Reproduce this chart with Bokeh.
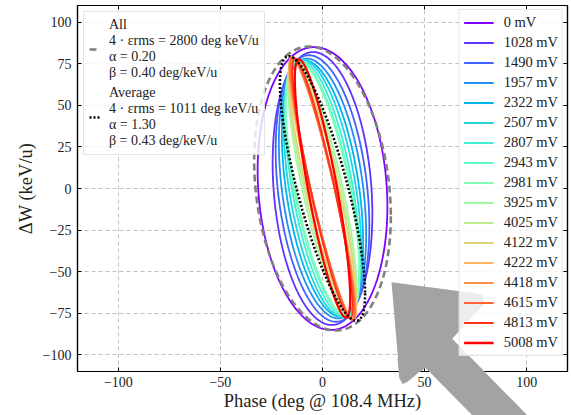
import numpy as np
from bokeh.plotting import figure
from bokeh.models import (Legend, LegendItem, LinearAxis, FixedTicker, PolyAnnotation,
                          CustomJSTickFormatter, Range1d, Div)
from bokeh.embed import file_html
from bokeh.resources import INLINE

# ---------------- data ----------------
voltages_mV = [0, 1028, 1490, 1957, 2322, 2507, 2807, 2943, 2981,
               3925, 4025, 4122, 4222, 4418, 4615, 4813, 5008]
# Twiss parameters of each measured ellipse (4*eps_rms in deg keV/u, alpha, beta in deg/keV/u)
emittance = [2678, 1968, 1760, 1560, 1386, 1271, 1155, 1078, 1040,
             770, 702, 624, 514, 474, 458, 468, 558]
alpha = [0.13, 0.19, 0.30, 0.38, 0.47, 0.58, 0.70, 0.82, 0.89,
         1.35, 1.56, 1.81, 2.31, 2.50, 2.50, 2.25, 1.60]
beta = [0.377, 0.303, 0.299, 0.293, 0.286, 0.285, 0.290, 0.305, 0.314,
        0.367, 0.395, 0.440, 0.520, 0.551, 0.532, 0.466, 0.330]

all_eps, all_alpha, all_beta = 2800, 0.20, 0.40
avg_eps, avg_alpha, avg_beta = 1011, 1.30, 0.43

x_ticks = [-100, -50, 0, 50, 100]
y_ticks = [-100, -75, -50, -25, 0, 25, 50, 75, 100]

# decorative cursor-arrow overlay (picture pixel positions)
arrow_px = [(391.0, 281.7), (399.3, 378.3), (402.7, 384.0), (407.3, 382.0), (425.0, 367.3),
            (491.7, 435.0), (546.7, 435.0), (451.7, 338.3), (484.3, 302.7),
            (481.7, 294.3), (475.0, 292.7)]

# ---------------- helpers ----------------
phi = np.linspace(0, 2 * np.pi, 400)


def ellipse(eps, a, b):
    x = np.sqrt(eps * b) * np.cos(phi)
    y = -np.sqrt(eps / b) * (a * np.cos(phi) + np.sin(phi))
    return x, y


def rainbow(t):
    r = min(1.0, abs(2 * t - 0.5))
    g = np.sin(np.pi * t)
    b = np.cos(np.pi * t / 2)
    return "#%02x%02x%02x" % tuple(int(round(255 * max(0.0, min(1.0, c)))) for c in (r, g, b))


FONT = "Liberation Serif"
TXT = "#222222"
n = len(voltages_mV)
colors = [rainbow(i / (n - 1)) for i in range(n)]

p = figure(width=571, height=415, x_range=Range1d(-120, 120), y_range=Range1d(-110, 110),
           output_backend="svg", toolbar_location=None,
           min_border_left=77, min_border_right=4, min_border_top=5, min_border_bottom=44)
p.background_fill_color = "white"
p.border_fill_color = "white"
p.outline_line_color = "black"
p.outline_line_width = 1.2

minus_fmt = CustomJSTickFormatter(code="return tick < 0 ? '\u2212' + Math.abs(tick) : String(tick);")
blank_fmt = CustomJSTickFormatter(code="return '';")

for ax, ticks in ((p.xaxis[0], x_ticks), (p.yaxis[0], y_ticks)):
    ax.ticker = FixedTicker(ticks=ticks)
    ax.formatter = minus_fmt
    ax.major_tick_in = 4
    ax.major_tick_out = 0
    ax.minor_tick_in = 0
    ax.minor_tick_out = 0
    ax.axis_line_color = "black"
    ax.axis_line_width = 1.2
    ax.major_label_text_font = FONT
    ax.major_label_text_font_size = "14px"
    ax.major_label_text_color = TXT
    ax.axis_label_text_font = FONT
    ax.axis_label_text_font_size = "18.5px"
    ax.axis_label_text_font_style = "normal"
    ax.axis_label_text_color = TXT

p.xaxis[0].axis_label = "Phase (deg @ 108.4 MHz)"
p.xaxis[0].major_label_standoff = 5
p.xaxis[0].axis_label_standoff = 1
p.yaxis[0].axis_label = "ΔW (keV/u)"
p.yaxis[0].major_label_standoff = 6
p.yaxis[0].axis_label_standoff = 4

for side, ticks in (("right", y_ticks), ("above", x_ticks)):
    ax = LinearAxis(ticker=FixedTicker(ticks=ticks), formatter=blank_fmt,
                    major_tick_in=4, major_tick_out=0, minor_tick_in=0, minor_tick_out=0,
                    major_label_standoff=0, axis_line_color="black", axis_line_width=1.2)
    p.add_layout(ax, side)

p.xgrid.ticker = FixedTicker(ticks=x_ticks)
p.ygrid.ticker = FixedTicker(ticks=y_ticks)
for g in (p.xgrid[0], p.ygrid[0]):
    g.grid_line_color = "#b0b0b0"
    g.grid_line_dash = "4 3"
    g.grid_line_width = 0.8

# ellipses
volt_items = []
for i in range(n):
    x, y = ellipse(emittance[i], alpha[i], beta[i])
    lw = 2.3 if i == n - 1 else 1.8
    r = p.line(x, y, line_color=colors[i], line_width=lw)
    volt_items.append(LegendItem(label=f"{voltages_mV[i]} mV", renderers=[r]))

xa, ya = ellipse(all_eps, all_alpha, all_beta)
r_all = p.line(xa, ya, line_color="#808080", line_width=2.6, line_dash="7 4")
xv, yv = ellipse(avg_eps, avg_alpha, avg_beta)
r_avg = p.line(xv, yv, line_color="black", line_width=2.6, line_dash="2 2")

# arrow overlay: inside the frame (beneath the legend) ...
ax_px = np.array([q[0] for q in arrow_px])
ay_px = np.array([q[1] for q in arrow_px])
arrow = PolyAnnotation(xs=list((ax_px - 322.0) / 2.042), ys=list((188.0 - ay_px) / 1.664),
                       fill_color="#a3a3a3", fill_alpha=1.0, line_alpha=0)
p.add_layout(arrow)

# ... and the part that runs over the bottom axis, as a floating element
pts = " ".join(f"{x:.1f},{y:.1f}" for x, y in arrow_px)
svg = ('<svg xmlns="http://www.w3.org/2000/svg" width="571" height="415">'
       '<defs><clipPath id="lowcut"><rect x="0" y="358" width="571" height="60"/></clipPath></defs>'
       f'<polygon points="{pts}" fill="#a3a3a3" clip-path="url(#lowcut)"/></svg>')
overlay = Div(text=svg, width=571, height=415,
              styles={"position": "absolute", "left": "0px", "top": "0px",
                      "pointer-events": "none", "z-index": "5", "margin": "0px", "padding": "0px"})
p.elements = [overlay]

lbl_all = f"All\n4 · εrms = {all_eps} deg keV/u\nα = {all_alpha:.2f}\nβ = {all_beta:.2f} deg/keV/u"
lbl_avg = f"Average\n4 · εrms = {avg_eps} deg keV/u\nα = {avg_alpha:.2f}\nβ = {avg_beta:.2f} deg/keV/u"

leg_left = Legend(items=[LegendItem(label=lbl_all, renderers=[r_all]),
                         LegendItem(label=lbl_avg, renderers=[r_avg])],
                  location="top_left", margin=6, padding=5, spacing=4,
                  glyph_width=11, glyph_height=50, label_standoff=9,
                  label_text_font=FONT, label_text_font_size="14px",
                  label_text_color=TXT,
                  background_fill_alpha=0.8, border_line_color="#cccccc")
leg_right = Legend(items=volt_items, location="top_right", margin=4, padding=4, spacing=3,
                   glyph_width=30, glyph_height=17, label_height=17, label_standoff=10,
                   label_text_font=FONT, label_text_font_size="14.5px", label_text_color=TXT,
                   background_fill_alpha=0.8, border_line_color="#cccccc")
p.add_layout(leg_left)
p.add_layout(leg_right)

open("out.html", "w").write(file_html(p, INLINE))
